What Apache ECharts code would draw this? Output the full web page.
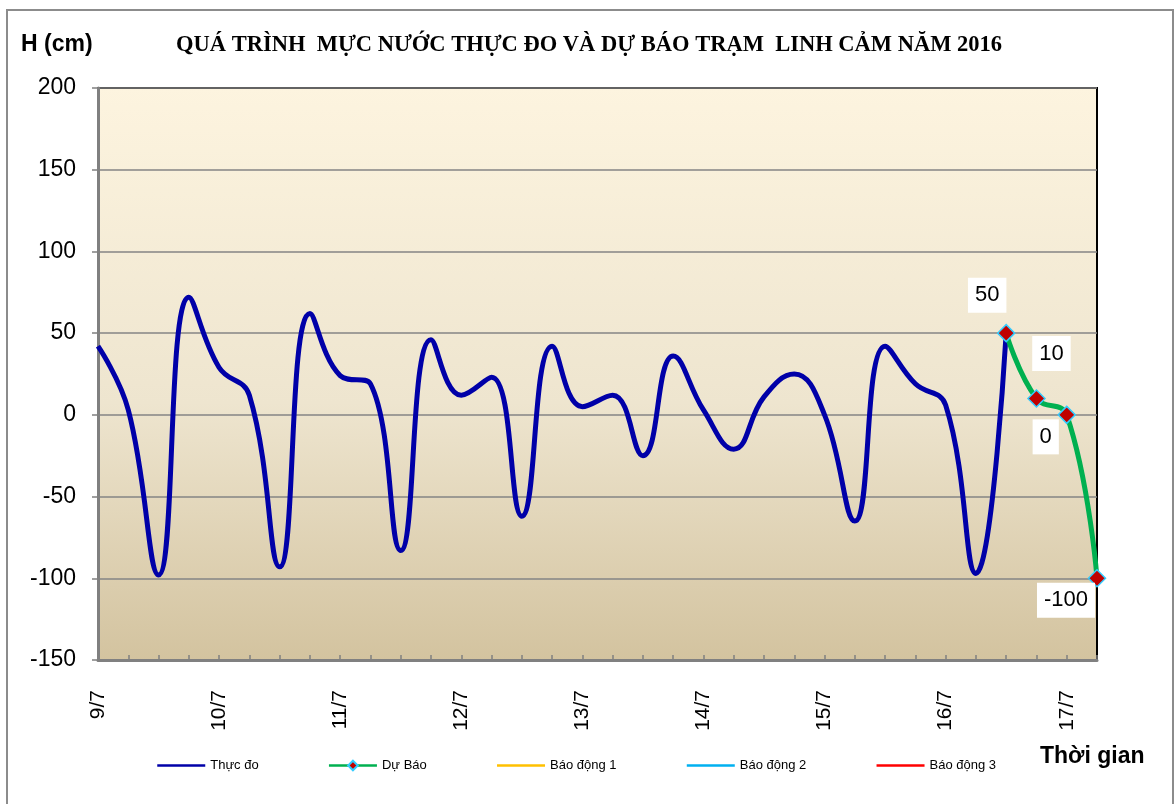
<!DOCTYPE html>
<html>
<head>
<meta charset="utf-8">
<script src="https://cdn.jsdelivr.net/npm/echarts@6/dist/echarts.min.js"></script>
<style>
  html, body { margin: 0; padding: 0; background: #fff; }
</style>
</head>
<body>
<div id="chart" style="width:1176px;height:804px;"></div>
<script>
    // time steps: 4 per day (6h)
    const days = ['9/7', '10/7', '11/7', '12/7', '13/7', '14/7', '15/7', '16/7', '17/7'];
    const hours = ['1h', '7h', '13h', '19h'];

    // measured water level (cm)
    const thucDo = [42, 3, -98, 72, 29, 12, -93, 62, 24, 19, -83, 46, 12, 23, -62, 42,
                    5, 12, -25, 36, 3, -21, 11, 25, 0, -65, 42, 19, 6, -97, 50];
    // forecast (starts at index 30)
    const duBao = [50, 10, 0, -100];
    const duBaoStart = 30;
    // label offsets for forecast values
    const labelOffsets = [[-19, -38], [15, -45], [-21, 22], [-31, 22]];

    let categories = [];
    for (let d = 0; d < days.length; d++) {
        for (let h = 0; h < hours.length; h++) {
            categories.push(days[d] + ' ' + hours[h]);
        }
    }
    categories = categories.slice(0, 34);

    const duBaoData = [];
    for (let i = 0; i < categories.length; i++) {
        const k = i - duBaoStart;
        if (k < 0) {
            duBaoData.push(null);
        } else {
            duBaoData.push({
                value: duBao[k],
                label: { show: true, offset: labelOffsets[k] }
            });
        }
    }

    const myChart = echarts.init(document.getElementById('chart'));

    // legend items without marker: hide the symbol, keep the line
    const noMarker = { opacity: 0 };

    const option = {
        animation: false,
        backgroundColor: '#fff',
        textStyle: { fontFamily: 'Liberation Sans, Arial, sans-serif' },
        title: [
            {
                text: 'QUÁ TRÌNH  MỰC NƯỚC THỰC ĐO VÀ DỰ BÁO TRẠM  LINH CẢM NĂM 2016',
                left: 584,
                top: 29,
                textAlign: 'center',
                textStyle: {
                    fontFamily: 'Liberation Serif, Times New Roman, serif',
                    fontWeight: 'bold',
                    fontSize: 22.5,
                    color: '#000'
                }
            },
            {
                text: 'H (cm)',
                left: 16,
                top: 28,
                textStyle: { fontSize: 23, fontWeight: 'bold', color: '#000' }
            },
            {
                text: 'Thời gian',
                left: 1035,
                top: 740,
                textStyle: { fontSize: 23, fontWeight: 'bold', color: '#000' }
            }
        ],
        graphic: [
            {
                type: 'rect',
                shape: { x: 7, y: 10, width: 1166, height: 800 },
                style: { fill: 'none', stroke: '#8c8c8c', lineWidth: 2 },
                silent: true
            }
        ],
        legend: {
            left: 156,
            top: 759,
            padding: 0,
            itemWidth: 48,
            itemHeight: 12,
            itemGap: 69,
            lineStyle: { width: 2.5 },
            textStyle: { fontSize: 13, color: '#000' },
            data: [
                { name: 'Thực đo', itemStyle: noMarker },
                { name: 'Dự Báo' },
                { name: 'Báo động 1', itemStyle: noMarker },
                { name: 'Báo động 2', itemStyle: noMarker },
                { name: 'Báo động 3', itemStyle: noMarker }
            ]
        },
        grid: {
            left: 98,
            right: 79,
            top: 88,
            bottom: 144,
            show: true,
            borderColor: '#000',
            borderWidth: 2,
            backgroundColor: new echarts.graphic.LinearGradient(0, 0, 0, 1, [
                { offset: 0, color: '#fdf4df' },
                { offset: 0.55, color: '#eee5cf' },
                { offset: 1, color: '#d3c39f' }
            ])
        },
        xAxis: {
            type: 'category',
            boundaryGap: false,
            data: categories,
            axisLine: { onZero: false, lineStyle: { color: '#808080', width: 3 } },
            axisTick: { inside: true, length: 5, interval: 0, lineStyle: { color: '#808080', width: 1.5 } },
            axisLabel: {
                interval: 3,
                rotate: 90,
                margin: 30,
                fontSize: 21,
                color: '#000',
                formatter: function (v) { return v.split(' ')[0]; }
            },
            splitLine: { show: false }
        },
        yAxis: {
            type: 'value',
            min: -150,
            max: 200,
            interval: 50,
            axisLine: { show: true, lineStyle: { color: '#808080', width: 3 } },
            axisTick: { show: true, length: 6, lineStyle: { color: '#808080', width: 1.5 } },
            axisLabel: { fontSize: 23, color: '#000', margin: 22 },
            splitLine: { lineStyle: { color: '#858585', width: 1.5 } }
        },
        series: [
            {
                name: 'Thực đo',
                type: 'line',
                smooth: 0.45,
                symbol: 'none',
                data: thucDo,
                z: 2,
                lineStyle: { color: '#0000a8', width: 5 },
                itemStyle: { color: '#0000a8' }
            },
            {
                name: 'Dự Báo',
                type: 'line',
                smooth: 0.45,
                symbol: 'diamond',
                symbolSize: 17,
                data: duBaoData,
                z: 3,
                lineStyle: { color: '#00b050', width: 5 },
                itemStyle: { color: '#c00000', borderColor: '#33ccff', borderWidth: 1.5 },
                label: {
                    position: 'inside',
                    fontSize: 22,
                    color: '#000',
                    backgroundColor: '#fff',
                    padding: [5, 7],
                    lineHeight: 25,
                    formatter: '{c}'
                }
            },
            {
                name: 'Báo động 1',
                type: 'line',
                symbol: 'none',
                data: [],
                lineStyle: { color: '#ffc000', width: 2 },
                itemStyle: { color: '#ffc000' }
            },
            {
                name: 'Báo động 2',
                type: 'line',
                symbol: 'none',
                data: [],
                lineStyle: { color: '#00b0f0', width: 2 },
                itemStyle: { color: '#00b0f0' }
            },
            {
                name: 'Báo động 3',
                type: 'line',
                symbol: 'none',
                data: [],
                lineStyle: { color: '#ff0000', width: 2 },
                itemStyle: { color: '#ff0000' }
            }
        ]
    };

    myChart.setOption(option);
</script>
</body>
</html>
